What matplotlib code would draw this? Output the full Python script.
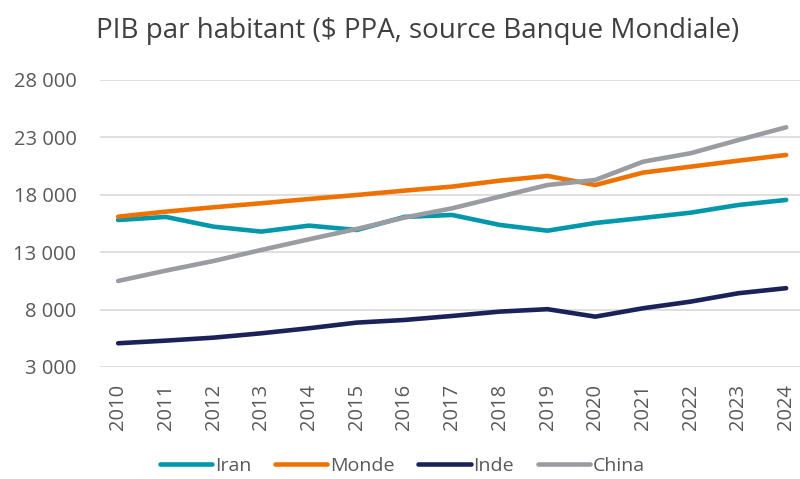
import matplotlib
matplotlib.use("Agg")
import matplotlib.pyplot as plt
from matplotlib.ticker import FuncFormatter, FixedLocator

plt.rcParams['font.family'] = ['Open Sans', 'DejaVu Sans']

years = list(range(2010, 2025))
iran = [15800, 16070, 15220, 14790, 15310, 14930, 16070, 16240, 15370, 14870, 15540, 15980, 16440, 17110, 17550]
monde = [16090, 16530, 16910, 17260, 17630, 17980, 18360, 18710, 19230, 19640, 18850, 19930, 20450, 20970, 21470]
inde = [5060, 5290, 5550, 5930, 6370, 6860, 7090, 7440, 7820, 8030, 7380, 8110, 8690, 9420, 9860]
china = [10490, 11390, 12230, 13190, 14120, 15020, 16010, 16820, 17840, 18850, 19290, 20880, 21620, 22770, 23880]
y_ticks = [3000, 8000, 13000, 18000, 23000, 28000]

series = [("Iran", iran, "#0098AA"), ("Monde", monde, "#EE7203"),
          ("Inde", inde, "#1B2259"), ("China", china, "#9A9CA2")]

fig = plt.figure(figsize=(8, 4.79), dpi=100)
ax = fig.add_axes([0.125, 0.234, 0.875, 0.599])

for name, vals, col in series:
    ax.plot(years, vals, color=col, lw=3.3, label=name, solid_capstyle='round', solid_joinstyle='round', zorder=3)

ax.set_ylim(3000, 28000)
ax.set_xlim(2009.62, 2024.29)
ax.yaxis.set_major_locator(FixedLocator(y_ticks))
ax.yaxis.set_major_formatter(FuncFormatter(lambda v, p: f"{int(v):,}".replace(",", " ")))
ax.set_xticks(years)
ax.set_xticklabels([str(y) for y in years], rotation=90)
ax.grid(axis='y', color='#D9D9D9', lw=1.2, zorder=0)
for s in ax.spines.values():
    s.set_visible(False)
ax.tick_params(axis='both', length=0, colors='#595959', labelsize=14.5)
ax.tick_params(axis='y', pad=17)
ax.tick_params(axis='x', pad=12)

fig.text(0.522, 0.935, "PIB par habitant ($ PPA, source Banque Mondiale)", ha='center', va='center',
         fontsize=20, color='#404040')

leg = fig.legend(loc='center', bbox_to_anchor=(0.503, 0.028), ncol=4, frameon=False,
                 fontsize=14, handlelength=2.7, columnspacing=1.2, handletextpad=0.15)
for t in leg.get_texts():
    t.set_color('#595959')

fig.savefig("out.png", dpi=100)
